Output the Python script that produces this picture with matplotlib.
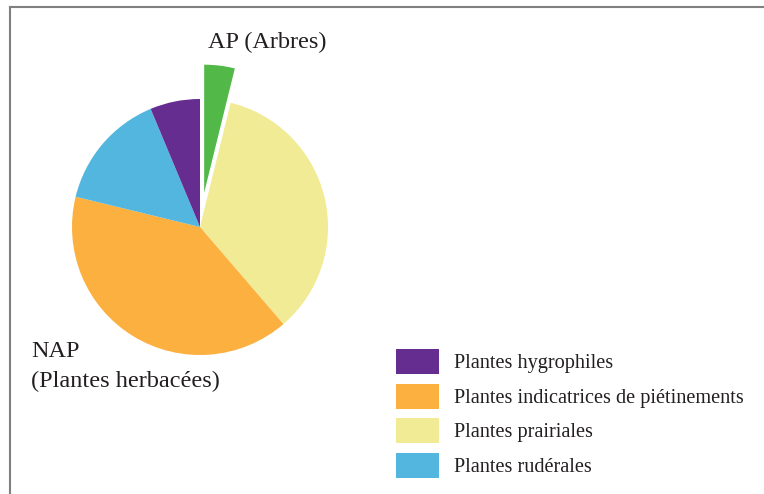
import matplotlib
matplotlib.use('Agg')
import matplotlib.pyplot as plt
from matplotlib.lines import Line2D

plt.rcParams['font.family'] = ['Liberation Serif', 'DejaVu Serif']

# Share of pollen by group (%), clockwise from 12 o'clock
groups = ['AP (Arbres)', 'Plantes prairiales', 'Plantes indicatrices de piétinements',
          'Plantes rudérales', 'Plantes hygrophiles']
shares = [3.85, 34.85, 40.1, 14.9, 6.3]
colors = ['#52b848', '#f0eb94', '#fbb040', '#53b6df', '#662d91']
explode = [0.27, 0, 0, 0, 0]
legend_order = [4, 2, 1, 3]

W, H = 764, 494
fig = plt.figure(figsize=(W / 100, H / 100), dpi=100)

# pie centre (200, 227) px, radius 128 px
cx, cy, r = 200, 227, 128
ax = fig.add_axes([(cx - r) / W, (H - cy - r) / H, 2 * r / W, 2 * r / H])
wedges, _ = ax.pie(shares, colors=colors, explode=explode, startangle=90,
                   counterclock=False, radius=1,
                   wedgeprops=dict(linewidth=0))
for w in wedges:
    w.set_clip_on(False)
ax.set_xlim(-1, 1)
ax.set_ylim(-1, 1)
ax.set_aspect('equal')
ax.axis('off')

# labels
fig.text(208 / W, 1 - 48 / H, 'AP (Arbres)', fontsize=17.5, color='#231f20')
fig.text(31 / W, 1 - 357 / H, 'NAP', fontsize=17.5, color='#231f20')
fig.text(31 / W, 1 - 387 / H, '(Plantes herbacées)', fontsize=17.5, color='#231f20')

# legend
fig.legend([wedges[i] for i in legend_order], [groups[i] for i in legend_order],
           loc='upper left', bbox_to_anchor=(396 / W, 1 - 349 / H),
           frameon=False, fontsize=14.6, borderpad=0, borderaxespad=0,
           handlelength=2.1, handleheight=1.55, handletextpad=0.75,
           labelspacing=0.45, labelcolor='#231f20')

# frame lines (top and left)
fig.add_artist(Line2D([10 / W, 1], [1 - 7 / H, 1 - 7 / H], color='#808080', lw=1.5))
fig.add_artist(Line2D([10 / W, 10 / W], [0, 1 - 7 / H], color='#808080', lw=1.5))

fig.savefig('out.png', dpi=100)
